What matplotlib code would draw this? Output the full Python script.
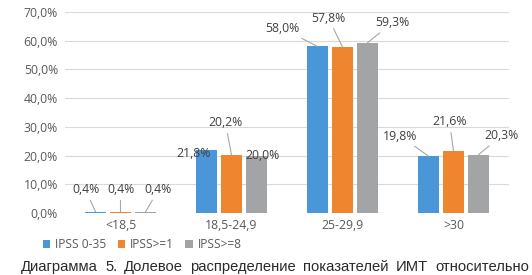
import matplotlib
matplotlib.use('Agg')
import matplotlib.pyplot as plt
import numpy as np

categories = ['<18,5', '18,5-24,9', '25-29,9', '>30']
series_names = ['IPSS 0-35', 'IPSS>=1', 'IPSS>=8']
ipss_0_35 = [0.4, 21.8, 58.0, 19.8]
ipss_ge1 = [0.4, 20.2, 57.8, 21.6]
ipss_ge8 = [0.4, 20.0, 59.3, 20.3]
y_ticks = [0, 10, 20, 30, 40, 50, 60, 70]
caption = 'Диаграмма 5. Долевое распределение показателей ИМТ относительно'

colors = ['#4A96D8', '#F0852F', '#A3A4A6']
# label offsets in pixels from bar top (dx, dy), per series per category
offsets = [
    [(-10, 22), (-13, -3), (-35, 18), (-28, 20)],
    [(0, 22), (-6, 32), (-14, 29), (-4, 29)],
    [(13, 22), (6, 0), (25, 20), (23, 19)],
]

fig = plt.figure(figsize=(5.32, 2.75), dpi=100)
ax = fig.add_axes([65 / 532, 1 - 213 / 275, 444 / 532, 201 / 275])

x = np.arange(len(categories))
width = 0.19
step = 0.225
series = [ipss_0_35, ipss_ge1, ipss_ge8]
for i, vals in enumerate(series):
    pos = x + (i - 1) * step
    ax.bar(pos, vals, width, color=colors[i], label=series_names[i], zorder=2)
    for j, v in enumerate(vals):
        dx, dy = offsets[i][j]
        txt = '{:.1f}%'.format(v).replace('.', ',')
        arrow = None
        if abs(dy) > 10:
            arrow = dict(arrowstyle='-', color='#A6A6A6', lw=0.8,
                         shrinkA=1, shrinkB=0)
        ax.annotate(txt, (pos[j], v), xytext=(dx, dy),
                    textcoords='offset pixels', ha='center', va='center',
                    fontsize=8.8, color='#404040', family='Open Sans',
                    arrowprops=arrow, zorder=3)

ax.set_xlim(-0.5, 3.5)
ax.set_ylim(0, 70)
ax.set_yticks(y_ticks)
ax.set_yticklabels(['{:.1f}%'.format(t).replace('.', ',') for t in y_ticks],
                   family='Open Sans', fontsize=8.8, color='#595959')
ax.set_xticks(x)
ax.set_xticklabels(categories, family='Open Sans', fontsize=8.8,
                   color='#595959')
ax.tick_params(length=0, pad=4)
ax.tick_params(axis='y', pad=5)
ax.grid(axis='y', color='#D9D9D9', lw=0.8, zorder=0)
for s in ax.spines.values():
    s.set_visible(False)

leg = fig.legend(loc='center', bbox_to_anchor=(142 / 532, 1 - 245 / 275),
                 ncol=3, frameon=False, handlelength=0.6, handleheight=0.6,
                 handletextpad=0.4, columnspacing=1.0,
                 prop={'family': 'Open Sans', 'size': 8.6})
for t in leg.get_texts():
    t.set_color('#595959')

# justified caption
words = caption.split(' ')
x0, x1, yc = 21 / 532, 529 / 532, 1 - 267 / 275
fig.canvas.draw()
r = fig.canvas.get_renderer()
texts = [fig.text(0, yc, w, fontsize=10.6, family='Liberation Sans',
                  color='#2a2a2a', va='center') for w in words]
widths = [t.get_window_extent(r).width / fig.bbox.width for t in texts]
gap = (x1 - x0 - sum(widths)) / (len(words) - 1)
cx = x0
for t, w in zip(texts, widths):
    t.set_x(cx)
    cx += w + gap

fig.savefig('out.png', dpi=100)
